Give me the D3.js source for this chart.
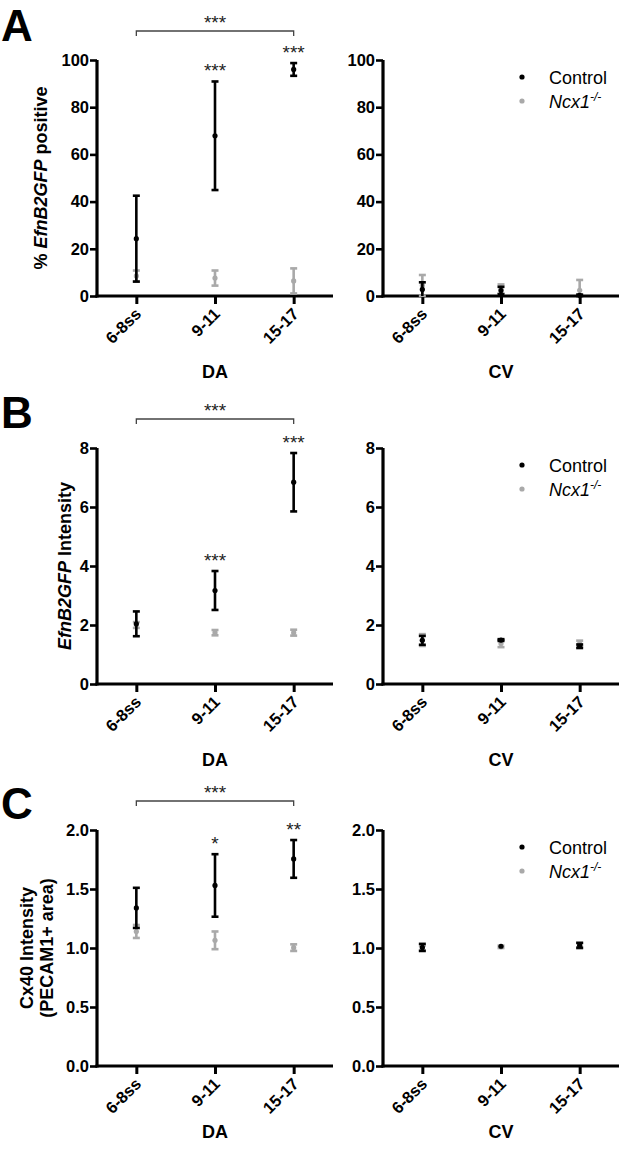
<!DOCTYPE html>
<html>
<head>
<meta charset="utf-8">
<script src="https://cdn.jsdelivr.net/npm/d3@7"></script>
<style>
  html, body { margin: 0; padding: 0; background: #fff; }
  svg text { font-family: "Liberation Sans", Arial, sans-serif; }
</style>
</head>
<body>
<svg id="chart" width="623" height="1150"></svg>
<script>
// ---------------- DATA ----------------
const categories = ["6-8ss", "9-11", "15-17"];
const seriesNames = ["Control", "Ncx1"];

// Panel A: % EfnB2GFP positive
const aTicks = [0, 20, 40, 60, 80, 100];
const aDAControlMean = [24.3, 67.9, 96.0];
const aDAControlErr  = [18.2, 23.0, 2.7];
const aDANcxMean     = [8.5, 7.6, 6.4];
const aDANcxErr      = [2.3, 3.2, 5.3];
const aCVControlMean = [2.8, 2.3, 0.3];
const aCVControlErr  = [3.0, 1.6, 0.3];
const aCVNcxMean     = [4.5, 3.0, 2.4];
const aCVNcxErr      = [4.4, 1.9, 4.4];
const aStars = ["", "***", "***"];
const aBracketStars = "***";

// Panel B: EfnB2GFP Intensity
const bTicks = [0, 2, 4, 6, 8];
const bDAControlMean = [2.04, 3.17, 6.84];
const bDAControlErr  = [0.42, 0.66, 0.99];
const bDANcxMean     = [2.00, 1.74, 1.74];
const bDANcxErr      = [0.10, 0.09, 0.10];
const bCVControlMean = [1.48, 1.49, 1.28];
const bCVControlErr  = [0.15, 0.03, 0.06];
const bCVNcxMean     = [1.49, 1.37, 1.37];
const bCVNcxErr      = [0.20, 0.12, 0.10];
const bStars = ["", "***", "***"];
const bBracketStars = "***";

// Panel C: Cx40 Intensity (PECAM1+ area)
const cTicks = [0.0, 0.5, 1.0, 1.5, 2.0];
const cDAControlMean = [1.34, 1.53, 1.755];
const cDAControlErr  = [0.17, 0.265, 0.16];
const cDANcxMean     = [1.14, 1.065, 1.003];
const cDANcxErr      = [0.055, 0.075, 0.028];
const cCVControlMean = [1.005, 1.015, 1.023];
const cCVControlErr  = [0.03, 0.0, 0.02];
const cCVNcxMean     = [1.00, 1.01, 1.02];
const cCVNcxErr      = [0.02, 0.01, 0.025];
const cStars = ["", "*", "**"];
const cBracketStars = "***";

// ---------------- LAYOUT / STYLE ----------------
const BLACK = "#000";
const GRAY = "#a9a9a9";
const FONT = "'Liberation Sans', Arial, sans-serif";
const svg = d3.select("#chart");

const panels = [
  { letter: "A", top: 60, bottom: 296, ticks: aTicks, fmt: d3.format("d"),
    titleLines: [[{t: "% ", i: false}, {t: "EfnB2GFP", i: true}, {t: " positive", i: false}]],
    titleX: [47],
    da: { c: [aDAControlMean, aDAControlErr], n: [aDANcxMean, aDANcxErr], stars: aStars, bracket: aBracketStars },
    cv: { c: [aCVControlMean, aCVControlErr], n: [aCVNcxMean, aCVNcxErr] },
    letterY: 41, xlabOff: 82 },
  { letter: "B", top: 448, bottom: 684, ticks: bTicks, fmt: d3.format("d"),
    titleLines: [[{t: "EfnB2GFP", i: true}, {t: " Intensity", i: false}]],
    titleX: [71],
    da: { c: [bDAControlMean, bDAControlErr], n: [bDANcxMean, bDANcxErr], stars: bStars, bracket: bBracketStars },
    cv: { c: [bCVControlMean, bCVControlErr], n: [bCVNcxMean, bCVNcxErr] },
    letterY: 428, xlabOff: 82 },
  { letter: "C", top: 830, bottom: 1066, ticks: cTicks, fmt: d3.format(".1f"),
    titleLines: [[{t: "Cx40 Intensity", i: false}], [{t: "(PECAM1+ area)", i: false}]],
    titleX: [33, 53],
    da: { c: [cDAControlMean, cDAControlErr], n: [cDANcxMean, cDANcxErr], stars: cStars, bracket: cBracketStars },
    cv: { c: [cCVControlMean, cCVControlErr], n: [cCVNcxMean, cCVNcxErr] },
    letterY: 819, xlabOff: 72 }
];

const columns = [
  { key: "da", left: 97, right: 333, label: "DA", legend: false },
  { key: "cv", left: 383, right: 619, label: "CV", legend: true }
];

function drawSeries(g, x, y, mean, err, color) {
  const yMin = y.domain()[0];
  const grp = g.append("g");
  categories.forEach((cat, i) => {
    const cx = x(cat);
    const lo = Math.max(mean[i] - err[i], yMin);
    const hi = mean[i] + err[i];
    if (err[i] > 0) {
      grp.append("line").attr("x1", cx).attr("x2", cx)
        .attr("y1", y(lo)).attr("y2", y(hi))
        .attr("stroke", color).attr("stroke-width", 2.6);
      [hi, mean[i] - err[i] >= yMin ? lo : null].forEach(v => {
        if (v === null) return;
        grp.append("line").attr("x1", cx - 3.5).attr("x2", cx + 3.5)
          .attr("y1", y(v)).attr("y2", y(v))
          .attr("stroke", color).attr("stroke-width", 2.6);
      });
    }
    grp.append("circle").attr("cx", cx).attr("cy", y(mean[i]))
      .attr("r", 2.6).attr("fill", color);
  });
}

panels.forEach(p => {
  // panel letter
  svg.append("text").attr("x", 1).attr("y", p.letterY)
    .attr("font-size", 44).attr("font-weight", "bold").text(p.letter);

  // y title
  const midY = (p.top + p.bottom) / 2;
  p.titleLines.forEach((line, li) => {
    const t = svg.append("text")
      .attr("transform", `translate(${p.titleX[li]},${midY}) rotate(-90)`)
      .attr("text-anchor", "middle").attr("font-size", 18).attr("font-weight", "bold");
    line.forEach(seg => {
      t.append("tspan").attr("font-style", seg.i ? "italic" : "normal").text(seg.t);
    });
  });

  columns.forEach(col => {
    const d = p[col.key];
    const x = d3.scalePoint().domain(categories).range([col.left, col.right]).padding(0.5);
    const y = d3.scaleLinear().domain([p.ticks[0], p.ticks[p.ticks.length - 1]]).range([p.bottom, p.top]);
    const g = svg.append("g");

    // y axis
    const ya = g.append("g").attr("transform", `translate(${col.left},0)`)
      .call(d3.axisLeft(y).tickValues(p.ticks).tickFormat(p.fmt).tickSize(7).tickPadding(1));
    ya.select(".domain").attr("stroke", BLACK).attr("stroke-width", 3.2)
      .attr("d", `M0,${p.bottom + 1.5}V${p.top}`);
    ya.selectAll(".tick line").attr("stroke", BLACK).attr("stroke-width", 2.6);
    ya.selectAll(".tick text").attr("font-size", 16.5).attr("font-weight", "bold")
      .attr("font-family", FONT).attr("fill", BLACK);

    // x axis
    const xa = g.append("g").attr("transform", `translate(0,${p.bottom})`)
      .call(d3.axisBottom(x).tickSize(8).tickFormat(""));
    xa.select(".domain").attr("stroke", BLACK).attr("stroke-width", 3.2)
      .attr("d", `M${col.left - 1.5},0H${col.right}`);
    xa.selectAll(".tick line").attr("stroke", BLACK).attr("stroke-width", 3);
    categories.forEach(cat => {
      g.append("text")
        .attr("transform", `translate(${x(cat) + 6},${p.bottom + 19}) rotate(-45)`)
        .attr("text-anchor", "end").attr("font-size", 16.5).attr("font-weight", "bold")
        .text(cat);
    });

    // x title
    g.append("text").attr("x", x(categories[1])).attr("y", p.bottom + p.xlabOff)
      .attr("text-anchor", "middle").attr("font-size", 18).attr("font-weight", "bold")
      .text(col.label);

    // series: mutant first, control on top
    drawSeries(g, x, y, d.n[0], d.n[1], GRAY);
    drawSeries(g, x, y, d.c[0], d.c[1], BLACK);

    // significance stars
    if (d.stars) {
      categories.forEach((cat, i) => {
        if (!d.stars[i]) return;
        const top = y(d.c[0][i] + d.c[1][i]);
        g.append("text").attr("x", x(cat)).attr("y", top - 4)
          .attr("text-anchor", "middle").attr("font-size", 19).attr("fill", "#222")
          .text(d.stars[i]);
      });
      const by = p.top - 29;
      const x0 = x(categories[0]), x1 = x(categories[2]);
      g.append("path").attr("d", `M${x0},${by + 5}V${by}H${x1}V${by + 5}`)
        .attr("fill", "none").attr("stroke", "#444").attr("stroke-width", 1.3);
      g.append("text").attr("x", (x0 + x1) / 2).attr("y", by - 2)
        .attr("text-anchor", "middle").attr("font-size", 19).attr("fill", "#222")
        .text(d.bracket);
    }

    // legend
    if (col.legend) {
      const lx = 522, ly = p.top + 17;
      seriesNames.forEach((name, i) => {
        const yy = ly + i * 24;
        g.append("circle").attr("cx", lx).attr("cy", yy).attr("r", 2.6)
          .attr("fill", i === 0 ? BLACK : GRAY);
        const t = g.append("text").attr("x", lx + 27).attr("y", yy + 6.5)
          .attr("font-size", 18);
        if (i === 0) {
          t.text(name);
        } else {
          t.append("tspan").attr("font-style", "italic").text(name);
          t.append("tspan").attr("font-style", "italic").attr("font-size", 12)
            .attr("dy", -7).text("-/-");
        }
      });
    }
  });
});
</script>
</body>
</html>
